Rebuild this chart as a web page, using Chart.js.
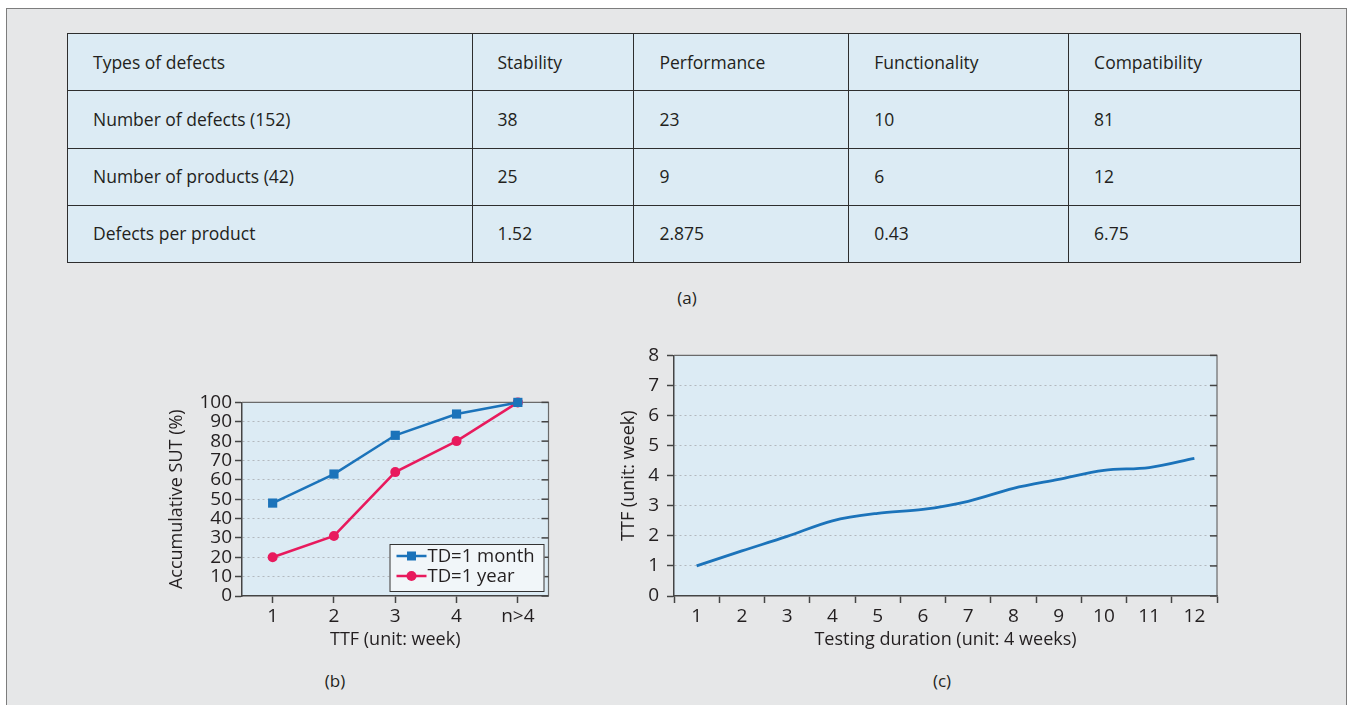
<!DOCTYPE html>
<html lang="en">
<head>
<meta charset="UTF-8">
<title>Defects and TTF</title>
<script src="https://cdn.jsdelivr.net/npm/chart.js"></script>
<style>
    body {
        margin: 0;
        background: #ffffff;
        font-family: 'Open Sans', sans-serif;
        color: #231f20;
    }
    .panel {
        position: absolute;
        left: 6px;
        top: 8px;
        width: 1339px;
        height: 700px;
        background: #e6e7e8;
        border: 1px solid #7d7d7d;
        border-bottom: none;
    }
    table {
        position: absolute;
        left: 67px;
        top: 33px;
        width: 1234px;
        height: 230px;
        border-collapse: collapse;
        background: #dcebf4;
        font-size: 17.5px;
    }
    td {
        border: 1.5px solid #2e2e2e;
        padding: 0 0 1px 25px;
        height: 55px;
        box-sizing: border-box;
    }
    .cap {
        position: absolute;
        font-size: 17px;
        transform: translate(-50%, -50%);
    }
    .box { position: absolute; }
</style>
</head>
<body>
<div class="panel"></div>
<table id="defects"></table>
<div class="cap" style="left:687px; top:297px">(a)</div>

<div class="box" style="left:162px; top:388px"><canvas id="chartB" width="393" height="267"></canvas></div>
<div class="box" style="left:614px; top:336px"><canvas id="chartC" width="609" height="319"></canvas></div>
<div class="cap" style="left:335px; top:680px">(b)</div>
<div class="cap" style="left:942px; top:680px">(c)</div>

<script>
// table (a)
const defectTypes = ['Stability', 'Performance', 'Functionality', 'Compatibility'];
const defectCounts = [38, 23, 10, 81];
const productCounts = [25, 9, 6, 12];
const defectsPerProduct = ['1.52', '2.875', '0.43', '6.75'];

// chart (b)
const ttfLabels = ['1', '2', '3', '4', 'n>4'];
const sutMonth = [48, 63, 83, 94, 100];
const sutYear = [20, 31, 64, 80, 100];

// chart (c)
const durationLabels = ['1', '2', '3', '4', '5', '6', '7', '8', '9', '10', '11', '12'];
const ttfWeeks = [1.0, 1.5, 1.98, 2.5, 2.75, 2.88, 3.15, 3.58, 3.88, 4.18, 4.27, 4.58];

const colWidths = [405, 162, 215, 220, 232];
const rows = [
    ['Types of defects'].concat(defectTypes),
    ['Number of defects (152)'].concat(defectCounts),
    ['Number of products (42)'].concat(productCounts),
    ['Defects per product'].concat(defectsPerProduct)
];
const table = document.getElementById('defects');
rows.forEach(function(r) {
    const tr = document.createElement('tr');
    r.forEach(function(v, i) {
        const td = document.createElement('td');
        td.textContent = v;
        td.style.width = colWidths[i] + 'px';
        tr.appendChild(td);
    });
    table.appendChild(tr);
});

Chart.defaults.font.family = "'Open Sans', sans-serif";
Chart.defaults.font.size = 18;
Chart.defaults.color = '#231f20';

const BLUE = '#1b73ba';
const RED = '#e81a5d';
const AXIS = '#444444';
const GRID = '#b3b8be';

// plot background, frame and the little ticks inside the right edge
const plotDeco = {
    id: 'plotDeco',
    beforeDraw(chart) {
        const a = chart.chartArea, ctx = chart.ctx;
        ctx.save();
        ctx.fillStyle = '#dcebf4';
        ctx.fillRect(a.left, a.top, a.right - a.left, a.bottom - a.top);
        ctx.restore();
    },
    beforeDatasetsDraw(chart) {
        const a = chart.chartArea, ctx = chart.ctx;
        const y = chart.scales.y;
        ctx.save();
        ctx.strokeStyle = '#6a6a6a';
        ctx.lineWidth = 1.2;
        ctx.beginPath();
        ctx.moveTo(a.left, a.top);
        ctx.lineTo(a.right, a.top);
        ctx.lineTo(a.right, a.bottom);
        ctx.stroke();
        ctx.strokeStyle = AXIS;
        ctx.lineWidth = 1.5;
        y.ticks.forEach(function(t) {
            const py = y.getPixelForValue(t.value);
            ctx.beginPath();
            ctx.moveTo(a.right - 7, py);
            ctx.lineTo(a.right, py);
            ctx.stroke();
        });
        ctx.restore();
    }
};

// legend box inside the plot, lower right
const innerLegend = {
    id: 'innerLegend',
    afterDraw(chart) {
        const a = chart.chartArea, ctx = chart.ctx;
        const w = 155, h = 48;
        const x0 = a.right - 4 - w, y0 = a.bottom - 4 - h;
        ctx.save();
        ctx.fillStyle = '#f1f6f9';
        ctx.fillRect(x0, y0, w, h);
        ctx.strokeStyle = '#333333';
        ctx.lineWidth = 1;
        ctx.strokeRect(x0 + 0.5, y0 + 0.5, w - 1, h - 1);
        chart.data.datasets.forEach(function(ds, i) {
            const cy = y0 + 12 + i * 20;
            ctx.strokeStyle = ds.borderColor;
            ctx.lineWidth = 2.5;
            ctx.beginPath();
            ctx.moveTo(x0 + 7, cy);
            ctx.lineTo(x0 + 37, cy);
            ctx.stroke();
            ctx.fillStyle = ds.borderColor;
            if (ds.pointStyle === 'rect') {
                ctx.fillRect(x0 + 22 - 4.5, cy - 4.5, 9, 9);
            } else {
                ctx.beginPath();
                ctx.arc(x0 + 22, cy, 5, 0, Math.PI * 2);
                ctx.fill();
            }
            ctx.fillStyle = '#231f20';
            ctx.font = "18.5px 'Open Sans', sans-serif";
            ctx.textBaseline = 'middle';
            ctx.fillText(ds.label, x0 + 38, cy + 1);
        });
        ctx.restore();
    }
};

function yGrid(maxVal) {
    return {
        color: function(c) {
            return (c.tick.value === 0 || c.tick.value === maxVal) ? 'rgba(0,0,0,0)' : GRID;
        },
        lineWidth: 1,
        tickColor: AXIS,
        tickWidth: 1.5,
        tickLength: 7
    };
}

const tickFont = { size: 19 };

new Chart(document.getElementById('chartB'), {
    type: 'line',
    data: {
        labels: ttfLabels,
        datasets: [{
            label: 'TD=1 month',
            data: sutMonth,
            borderColor: BLUE,
            backgroundColor: BLUE,
            borderWidth: 2.5,
            pointStyle: 'rect',
            pointRadius: 6.5,
            pointBorderWidth: 0,
            tension: 0,
            clip: false
        }, {
            label: 'TD=1 year',
            data: sutYear,
            borderColor: RED,
            backgroundColor: RED,
            borderWidth: 2.5,
            pointStyle: 'circle',
            pointRadius: 5,
            pointBorderWidth: 0,
            tension: 0,
            clip: false
        }]
    },
    options: {
        responsive: false,
        animation: false,
        layout: { padding: { top: 14, right: 6, bottom: 0, left: 0 } },
        plugins: { legend: { display: false }, tooltip: { enabled: false } },
        scales: {
            x: {
                offset: true,
                grid: { offset: false, drawOnChartArea: false, tickColor: AXIS, tickWidth: 1.5, tickLength: 7 },
                border: { color: AXIS, width: 1.5 },
                ticks: { padding: 2, font: tickFont },
                title: { display: true, text: 'TTF (unit: week)' },
                afterFit: function(s) { s.height = 59; }
            },
            y: {
                min: 0,
                max: 100,
                ticks: { stepSize: 10, padding: 3, autoSkip: false, font: tickFont },
                grid: yGrid(100),
                border: { color: AXIS, width: 1.5, dash: [2, 3] },
                title: { display: true, text: 'Accumulative SUT (%)' },
                afterFit: function(s) { s.width = 80; }
            }
        }
    },
    plugins: [plotDeco, innerLegend]
});

new Chart(document.getElementById('chartC'), {
    type: 'line',
    data: {
        labels: durationLabels,
        datasets: [{
            label: 'TTF',
            data: ttfWeeks,
            borderColor: BLUE,
            borderWidth: 2.8,
            pointRadius: 0,
            cubicInterpolationMode: 'monotone',
            clip: false
        }]
    },
    options: {
        responsive: false,
        animation: false,
        layout: { padding: { top: 14, right: 6, bottom: 0, left: 0 } },
        plugins: { legend: { display: false }, tooltip: { enabled: false } },
        scales: {
            x: {
                offset: true,
                grid: { offset: true, drawOnChartArea: false, tickColor: AXIS, tickWidth: 1.5, tickLength: 7 },
                border: { color: AXIS, width: 1.5 },
                ticks: { padding: 2, autoSkip: false, font: tickFont },
                title: { display: true, text: 'Testing duration (unit: 4 weeks)' },
                afterFit: function(s) { s.height = 59; }
            },
            y: {
                min: 0,
                max: 8,
                ticks: { stepSize: 1, padding: 8, autoSkip: false, font: tickFont },
                grid: yGrid(8),
                border: { color: AXIS, width: 1.5, dash: [2, 3] },
                title: { display: true, text: 'TTF (unit: week)' },
                afterFit: function(s) { s.width = 60; }
            }
        }
    },
    plugins: [plotDeco]
});
</script>
</body>
</html>
